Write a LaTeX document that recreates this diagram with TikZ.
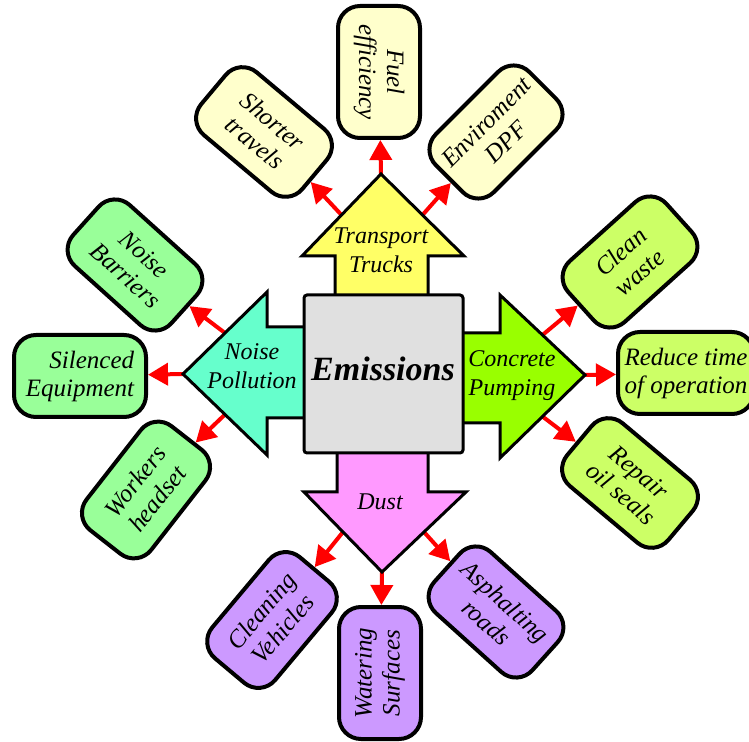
\documentclass[tikz,border=0pt]{standalone}
\usepackage{fontspec}
\setmainfont{Liberation Serif}
\usetikzlibrary{arrows.meta,calc}

\definecolor{truckarrow}{HTML}{FFFF66}
\definecolor{truckbox}{HTML}{FFFFCC}
\definecolor{noisearrow}{HTML}{66FFCC}
\definecolor{noisebox}{HTML}{99FF99}
\definecolor{pumparrow}{HTML}{99FF00}
\definecolor{pumpbox}{HTML}{CCFF66}
\definecolor{dustarrow}{HTML}{FF99FF}
\definecolor{dustbox}{HTML}{CC99FF}
\definecolor{emisfill}{HTML}{E0E0E0}

\tikzset{
  bigarrow/.style={draw=black,line width=1.5pt,line join=miter},
  ideabox/.style={draw=black,line width=2pt,rounded corners=11pt,minimum width=66pt,
    minimum height=41pt,inner sep=3pt,align=center,font=\itshape\fontsize{12.5}{14}\selectfont},
  redarrow/.style={draw=red,line width=2pt,-{Triangle[width=11pt,length=10pt]}},
  arrowlabel/.style={align=center,inner sep=0pt,font=\itshape\fontsize{12}{14.5}\selectfont}
}

\begin{document}
\begin{tikzpicture}[x=0.5pt,y=-0.5pt]
 \useasboundingbox (0,0) rectangle (749,742);
 \clip (0,0) rectangle (749,742);

 % outer boxes
 \node[ideabox,fill=truckbox,rotate=-90] (fuel) at (379,72) {Fuel\\efficiency};
 \node[ideabox,fill=truckbox,rotate=-40] (shorter) at (264,132) {Shorter\\travels};
 \node[ideabox,fill=truckbox,rotate=45] (dpf) at (496,132) {Enviroment\\DPF};
 \node[ideabox,fill=noisebox,rotate=-42] (barriers) at (135,265) {Noise\\Barriers};
 \node[ideabox,fill=noisebox,align=right] (silenced) at (80,376) {Silenced\\Equipment};
 \node[ideabox,fill=noisebox,rotate=52] (headset) at (146,490) {Workers\\headset};
 \node[ideabox,fill=pumpbox,rotate=42] (waste) at (630,262) {Clean\\waste};
 \node[ideabox,fill=pumpbox,minimum width=68pt] (reduce) at (686,373) {Reduce time\\of operation};
 \node[ideabox,fill=pumpbox,rotate=-40] (seals) at (630,483) {Repair\\oil seals};
 \node[ideabox,fill=dustbox,rotate=50] (cleaning) at (272,620) {Cleaning\\Vehicles};
 \node[ideabox,fill=dustbox,rotate=90] (watering) at (380,673) {Watering\\Surfaces};
 \node[ideabox,fill=dustbox,rotate=-42] (asphalt) at (496,612) {Asphalting\\roads};

 % points on the big arrow heads
 \coordinate (tt) at (381,174);
 \coordinate (tl) at ($(302,256)!0.5!(381,174)$);
 \coordinate (tr) at ($(464,256)!0.5!(381,174)$);
 \coordinate (lt) at (183,374);
 \coordinate (lu) at ($(267,292)!0.5!(183,374)$);
 \coordinate (ld) at ($(267,455)!0.5!(183,374)$);
 \coordinate (rt) at (585,375);
 \coordinate (ru) at ($(500,295)!0.5!(585,375)$);
 \coordinate (rd) at ($(500,458)!0.5!(585,375)$);
 \coordinate (bt) at (382,572);
 \coordinate (bl) at ($(304,492)!0.5!(382,572)$);
 \coordinate (br) at ($(466,492)!0.5!(382,572)$);

 % red connectors
 \draw[redarrow] (tt) -- (fuel);
 \draw[redarrow] (tl) -- (shorter);
 \draw[redarrow] (tr) -- (dpf);
 \draw[redarrow] (lu) -- (barriers);
 \draw[redarrow] (lt) -- (silenced);
 \draw[redarrow] (ld) -- (headset);
 \draw[redarrow] (ru) -- (waste);
 \draw[redarrow] (rt) -- (reduce);
 \draw[redarrow] (rd) -- (seals);
 \draw[redarrow] (bl) -- (cleaning);
 \draw[redarrow] (bt) -- (watering);
 \draw[redarrow] (br) -- (asphalt);

 % big arrows
 \draw[bigarrow,fill=truckarrow] (335,300) -- (335,256) -- (302,256) -- (tt) -- (464,256) -- (428,256) -- (428,300) -- cycle;
 \draw[bigarrow,fill=noisearrow] (310,327) -- (267,327) -- (267,292) -- (lt) -- (267,455) -- (267,418) -- (310,418) -- cycle;
 \draw[bigarrow,fill=pumparrow] (458,333) -- (500,333) -- (500,295) -- (rt) -- (500,458) -- (500,423) -- (458,423) -- cycle;
 \draw[bigarrow,fill=dustarrow] (337,448) -- (337,492) -- (304,492) -- (bt) -- (466,492) -- (428,492) -- (428,448) -- cycle;

 \node[arrowlabel] (trucks) at (381,250) {Transport\\Trucks};
 \node[arrowlabel] (noise) at (252,366) {Noise\\Pollution};
 \node[arrowlabel] (pumping) at (512,376) {Concrete\\Pumping};
 \node[arrowlabel] (dust) at (380,502) {Dust};

 % centre
 \draw[bigarrow,fill=emisfill,rounded corners=1.5pt] (304,295) rectangle (463,453);
 \node[font=\bfseries\itshape\fontsize{17}{20}\selectfont] (emis) at (383,369) {Emissions};
\end{tikzpicture}
\end{document}
